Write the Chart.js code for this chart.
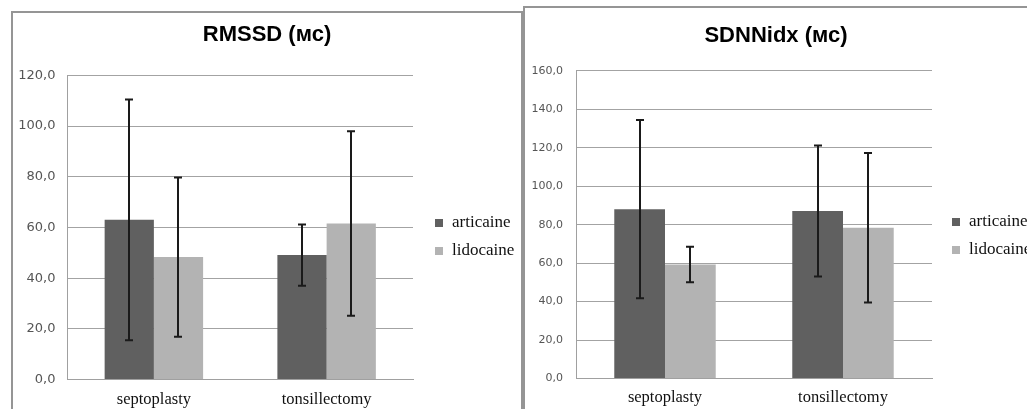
<!DOCTYPE html>
<html>
<head>
<meta charset="utf-8">
<script src="https://cdn.jsdelivr.net/npm/chart.js@4"></script>
<style>
  html, body { margin: 0; padding: 0; background: #fff; overflow: hidden; }
  body { width: 1027px; height: 409px; position: relative; }
  .panel { position: absolute; box-sizing: border-box; background: #fff; }
  #panelLeft { left: 11px; top: 11px; width: 512px; height: 420px; border: 2px solid #959595; }
  #panelRight { left: 523px; top: 6px; width: 520px; height: 420px; border: 2px solid #959595; }
  canvas { position: absolute; }
</style>
</head>
<body>
<div class="panel" id="panelLeft"><canvas id="rmssd"></canvas></div>
<div class="panel" id="panelRight"><canvas id="sdnn"></canvas></div>
<script>
// Data
const categories = ['septoplasty', 'tonsillectomy'];
const seriesNames = ['articaine', 'lidocaine'];
const seriesColors = ['#606060', '#b3b3b3'];

const rmssdArticaine = [63.0, 49.1];
const rmssdArticaineErr = [47.5, 12.1];
const rmssdLidocaine = [48.3, 61.6];
const rmssdLidocaineErr = [31.4, 36.4];

const sdnnArticaine = [88.1, 87.1];
const sdnnArticaineErr = [46.4, 34.1];
const sdnnLidocaine = [59.3, 78.4];
const sdnnLidocaineErr = [9.2, 38.9];

const rmssdTicks = { max: 120, step: 20 };
const sdnnTicks = { max: 160, step: 20 };

// Error bars drawn on top of the bars
const errorBarPlugin = {
    id: 'errorBars',
    afterDatasetsDraw(chart) {
        const ctx = chart.ctx;
        const yScale = chart.scales.y;
        ctx.save();
        ctx.strokeStyle = '#1a1a1a';
        ctx.lineWidth = 2;
        chart.data.datasets.forEach((ds, di) => {
            const meta = chart.getDatasetMeta(di);
            meta.data.forEach((bar, i) => {
                const v = ds.data[i];
                const e = ds.errors[i];
                const top = yScale.getPixelForValue(v + e);
                const bottom = yScale.getPixelForValue(v - e);
                const x = Math.round(bar.x);
                ctx.beginPath();
                ctx.moveTo(x, top);
                ctx.lineTo(x, bottom);
                ctx.moveTo(x - 4, top);
                ctx.lineTo(x + 4, top);
                ctx.moveTo(x - 4, bottom);
                ctx.lineTo(x + 4, bottom);
                ctx.stroke();
            });
        });
        ctx.restore();
    }
};

// Legend drawn at the right like the spreadsheet chart
const sideLegendPlugin = {
    id: 'sideLegend',
    afterDraw(chart, args, opts) {
        const ctx = chart.ctx;
        ctx.save();
        ctx.font = '17px "Liberation Serif", "Times New Roman", serif';
        ctx.textBaseline = 'middle';
        chart.data.datasets.forEach((ds, i) => {
            const y = opts.y + i * opts.gap;
            ctx.fillStyle = ds.backgroundColor;
            ctx.fillRect(opts.x, y - 4, 8, 8);
            ctx.fillStyle = '#111';
            ctx.fillText(ds.label, opts.textX, y);
        });
        ctx.restore();
    }
};

function makeChart(id, width, height, title, titlePad, valsA, errA, valsB, errB, ticks, geo) {
    const canvas = document.getElementById(id);
    canvas.width = width;
    canvas.height = height;
    canvas.style.width = width + 'px';
    canvas.style.height = height + 'px';

    return new Chart(canvas, {
        type: 'bar',
        data: {
            labels: categories,
            datasets: [
                { label: seriesNames[0], data: valsA, errors: errA, backgroundColor: seriesColors[0] },
                { label: seriesNames[1], data: valsB, errors: errB, backgroundColor: seriesColors[1] }
            ]
        },
        options: {
            responsive: false,
            animation: false,
            devicePixelRatio: 1,
            categoryPercentage: 0.57,
            barPercentage: 1.0,
            layout: { padding: 0 },
            plugins: {
                legend: { display: false },
                tooltip: { enabled: false },
                title: {
                    display: true,
                    text: title,
                    color: '#000',
                    font: { family: '"Liberation Sans", Arial, sans-serif', size: 22, weight: 'bold' },
                    padding: titlePad
                },
                sideLegend: geo.legend
            },
            scales: {
                x: {
                    grid: { display: false, drawTicks: false },
                    border: { display: true, color: '#a0a0a0', width: 1 },
                    ticks: {
                        color: '#111',
                        padding: geo.xPad,
                        font: { family: '"Liberation Serif", "Times New Roman", serif', size: 16.5 }
                    },
                    afterFit(axis) { axis.height = geo.xHeight; }
                },
                y: {
                    min: 0,
                    max: ticks.max,
                    grid: { color: '#a3a3a3', lineWidth: 1, drawTicks: false },
                    border: { display: true, color: '#a0a0a0', width: 1 },
                    ticks: {
                        stepSize: ticks.step,
                        color: '#555',
                        padding: geo.yPad,
                        font: { family: '"DejaVu Sans", sans-serif', size: geo.yFont },
                        callback: v => v.toFixed(1).replace('.', ',')
                    },
                    afterFit(axis) { axis.width = geo.yWidth; }
                },
                // empty right-hand axis: keeps room for the legend without shifting the title
                legendSpace: {
                    type: 'linear',
                    position: 'right',
                    grid: { display: false, drawTicks: false },
                    border: { display: false },
                    ticks: { display: false },
                    afterFit(axis) { axis.width = geo.right; }
                }
            }
        },
        plugins: [errorBarPlugin, sideLegendPlugin]
    });
}

// Left: RMSSD
makeChart('rmssd', 508, 396, 'RMSSD (мс)', { top: 8.5, bottom: 27.5 },
    rmssdArticaine, rmssdArticaineErr, rmssdLidocaine, rmssdLidocaineErr, rmssdTicks,
    { right: 108, yWidth: 54.5, yPad: 12, yFont: 13, xPad: 10, xHeight: 29.5,
      legend: { x: 422, y: 210, gap: 28, textX: 439 } });

// Right: SDNNidx
makeChart('sdnn', 502, 401, 'SDNNidx (мс)', { top: 15, bottom: 21.5 },
    sdnnArticaine, sdnnArticaineErr, sdnnLidocaine, sdnnLidocaineErr, sdnnTicks,
    { right: 95, yWidth: 51, yPad: 13, yFont: 11, xPad: 9, xHeight: 30.5,
      legend: { x: 427, y: 214, gap: 28, textX: 444 } });
</script>
</body>
</html>
